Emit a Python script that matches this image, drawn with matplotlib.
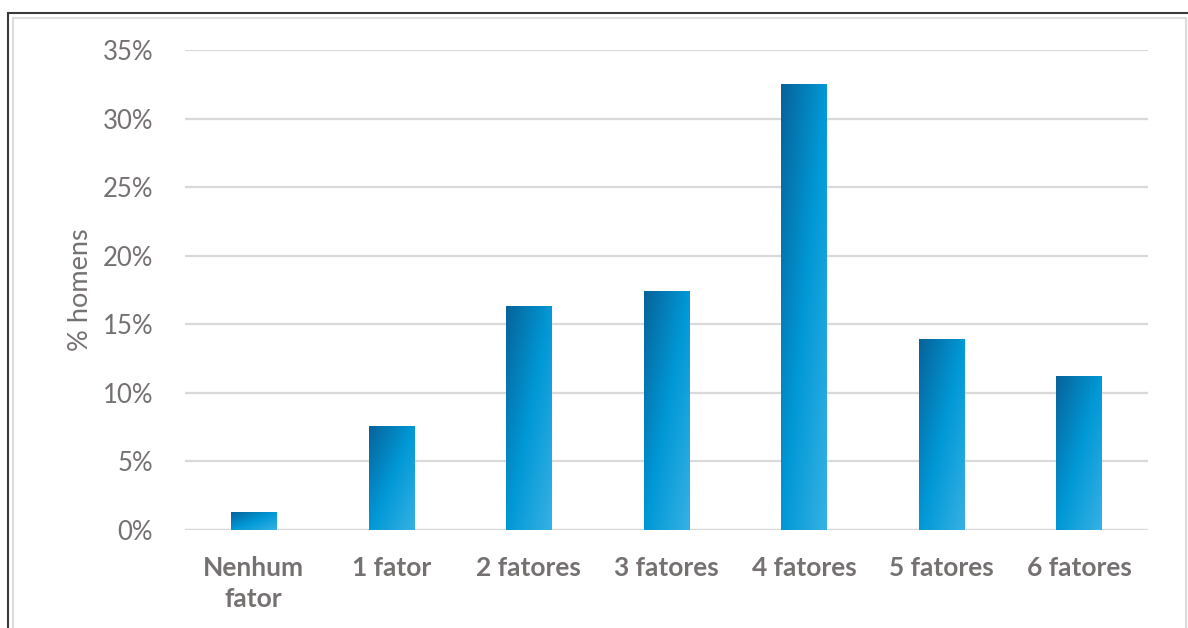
import matplotlib.pyplot as plt
import numpy as np
from matplotlib.colors import LinearSegmentedColormap
from matplotlib.patches import Rectangle
from matplotlib.ticker import PercentFormatter

categories = ['Nenhum\nfator', '1 fator', '2 fatores', '3 fatores', '4 fatores', '5 fatores', '6 fatores']
pct_homens = [1.3, 7.6, 16.3, 17.4, 32.5, 13.9, 11.2]
y_ticks = [0, 5, 10, 15, 20, 25, 30, 35]

grey = '#767171'
cmap = LinearSegmentedColormap.from_list('bar', ['#07639a', '#0098d6', '#36b1e4'])

fig = plt.figure(figsize=(11.88, 6.28), dpi=100)
ax = fig.add_axes([0.1557, 0.156, 0.8106, 0.7643])

x = np.arange(len(categories))
bars = ax.bar(x, pct_homens, width=0.33, color='none', zorder=3)

# gradient fill per bar: dark top-left -> light bottom-right
gx, gy = np.meshgrid(np.linspace(0, 1, 40), np.linspace(1, 0, 120))
grad = 0.5 + 0.5 * (gx - gy)
for b in bars:
    x0, y0 = b.get_x(), b.get_y()
    w, h = b.get_width(), b.get_height()
    im = ax.imshow(grad, cmap=cmap, vmin=0, vmax=1, aspect='auto',
                   extent=[x0, x0 + w, y0, y0 + h], zorder=3, interpolation='bilinear')
    im.set_clip_path(b)

ax.set_xlim(-0.5, len(categories) - 0.5)
ax.set_ylim(0, 35)
ax.set_yticks(y_ticks)
ax.yaxis.set_major_formatter(PercentFormatter(decimals=0))
ax.grid(axis='y', color='#d9d9d9', linewidth=1.6, zorder=0)
ax.set_axisbelow(True)
for s in ax.spines.values():
    s.set_visible(False)
ax.axhline(0, color='#d9d9d9', linewidth=1.6, zorder=2)

ax.set_xticks(x)
ax.set_xticklabels(categories, fontfamily='Lato', fontweight='bold', fontsize=19,
                   color=grey, linespacing=1.35)
ax.tick_params(axis='both', length=0)
ax.tick_params(axis='x', pad=19)
ax.tick_params(axis='y', pad=23)
for lbl in ax.get_yticklabels():
    lbl.set_fontfamily('Lato')
    lbl.set_fontsize(18.5)
    lbl.set_color(grey)

ax.set_ylabel('% homens', fontfamily='Lato', fontsize=19.5, color=grey)
ax.yaxis.set_label_coords(-0.096, 0.5)

# chart frame
fig.patches.append(Rectangle((8 / 1188, -0.1), 1.2, (628 - 13) / 628 + 0.1,
                             transform=fig.transFigure, fill=False,
                             edgecolor='#3a3a3a', linewidth=1.5))
fig.patches.append(Rectangle((13 / 1188, -0.1), (1186 - 13) / 1188, (628 - 18) / 628 + 0.1,
                             transform=fig.transFigure, fill=False,
                             edgecolor='#dcdcdc', linewidth=1.5))

fig.savefig('out.png', dpi=100, facecolor='white')
